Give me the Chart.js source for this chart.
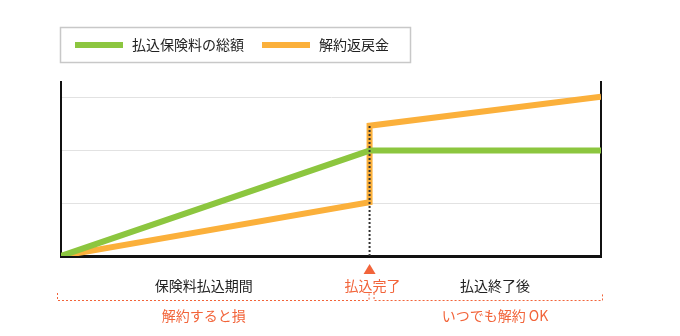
<!DOCTYPE html>
<html lang="ja">
<head>
<meta charset="utf-8">
<script src="https://cdn.jsdelivr.net/npm/chart.js@4/dist/chart.umd.min.js"></script>
<style>
  html, body { margin: 0; padding: 0; background: #fff; }
  #wrap { width: 680px; height: 336px; }
</style>
</head>
<body>
<div id="wrap"><canvas id="chart" width="680" height="336"></canvas></div>
<script>
// 払込保険料の総額と解約返戻金の推移（概念図）
const seriesNames = ["払込保険料の総額", "解約返戻金"];
const paidX = [0, 8, 14];
const paidValues = [0, 2, 2];
const refundX = [0, 8, 8, 14];
const refundValues = [0, 1.02, 2.47, 3.02];
const payEndX = 8;
const periodLabels = ["保険料払込期間", "払込完了", "払込終了後"];
const periodLabelX = [3.7, 8, 11.25];
const noteLabels = ["解約すると損", "いつでも解約 OK"];

const GREEN = "#8cc63f";
const ORANGE = "#fbb03b";
const RED = "#f2643a";
const FONT = '"Noto Sans CJK JP", "Noto Sans", sans-serif';

const toPoints = (xs, ys) => xs.map((x, i) => ({ x, y: ys[i] }));

// 凡例・下部ラベル・点線ブラケット
const annotations = {
  id: "annotations",
  afterDraw(chart) {
    const { ctx, chartArea, scales } = chart;
    const x = scales.x;
    ctx.save();

    // 凡例（枠付き）
    ctx.strokeStyle = "#c8c8c8";
    ctx.lineWidth = 1.5;
    ctx.strokeRect(60.5, 27.5, 350, 35);
    ctx.font = "14px " + FONT;
    ctx.textBaseline = "middle";
    ctx.textAlign = "left";
    const legendX = [75, 262];
    chart.data.datasets.slice(0, 2).forEach((ds, i) => {
      ctx.fillStyle = ds.borderColor;
      ctx.fillRect(legendX[i], 42, 48, 6);
      ctx.fillStyle = "#222";
      ctx.fillText(ds.label, legendX[i] + 57, 45);
    });

    // 期間ラベル
    const labelY = 286;
    ctx.textAlign = "center";
    ctx.fillStyle = "#222";
    ctx.fillText(periodLabels[0], x.getPixelForValue(periodLabelX[0]), labelY);
    ctx.fillText(periodLabels[2], x.getPixelForValue(periodLabelX[2]), labelY);
    const endPx = x.getPixelForValue(periodLabelX[1]);
    ctx.fillStyle = RED;
    ctx.fillText(periodLabels[1], endPx + 3, labelY);
    ctx.beginPath();
    ctx.moveTo(endPx, 264);
    ctx.lineTo(endPx + 6, 274);
    ctx.lineTo(endPx - 6, 274);
    ctx.closePath();
    ctx.fill();

    // 点線ブラケット
    const bracketY = 300.5;
    const tickTop = 293;
    ctx.strokeStyle = RED;
    ctx.lineWidth = 1;
    ctx.setLineDash([2, 2]);
    const bracket = (l, r) => {
      ctx.beginPath();
      ctx.moveTo(l, tickTop);
      ctx.lineTo(l, bracketY);
      ctx.lineTo(r, bracketY);
      ctx.lineTo(r, tickTop);
      ctx.stroke();
    };
    const payEndPx = x.getPixelForValue(payEndX);
    bracket(chartArea.left - 3.5, payEndPx - 0.5);
    bracket(payEndPx + 4.5, chartArea.right + 1.5);
    ctx.setLineDash([]);

    // 注記
    ctx.fillStyle = RED;
    ctx.fillText(noteLabels[0], x.getPixelForValue(periodLabelX[0]), 316);
    ctx.fillText(noteLabels[1], x.getPixelForValue(periodLabelX[2]), 316);
    ctx.restore();
  },
};

new Chart(document.getElementById("chart"), {
  type: "line",
  data: {
    datasets: [
      {
        label: seriesNames[0],
        data: toPoints(paidX, paidValues),
        borderColor: GREEN,
        borderWidth: 6,
        order: 1,
      },
      {
        label: seriesNames[1],
        data: toPoints(refundX, refundValues),
        borderColor: ORANGE,
        borderWidth: 6,
        order: 2,
      },
      {
        label: "払込完了",
        data: toPoints([payEndX, payEndX], [0, refundValues[2]]),
        borderColor: "#333",
        borderWidth: 2,
        borderDash: [2, 2],
        order: 0,
      },
    ],
  },
  options: {
    responsive: false,
    devicePixelRatio: 1,
    animation: false,
    layout: { padding: { left: 61, right: 79, top: 82, bottom: 80 } },
    elements: {
      point: { radius: 0 },
      line: { tension: 0, borderJoinStyle: "miter", fill: false },
    },
    plugins: { legend: { display: false }, tooltip: { enabled: false } },
    scales: {
      x: {
        type: "linear",
        min: 0,
        max: 14,
        ticks: { display: false },
        grid: { display: false, drawTicks: false },
        border: { color: "#111", width: 3 },
        afterFit: (s) => { s.height = 0; },
      },
      y: {
        min: 0,
        max: 3.3,
        ticks: { display: false, stepSize: 1 },
        grid: {
          drawTicks: false,
          color: (c) => (c.tick && Number.isInteger(c.tick.value) && c.tick.value > 0 ? "#e2e2e2" : "transparent"),
        },
        border: { color: "#111", width: 2 },
        afterFit: (s) => { s.width = 0; },
      },
      yRight: {
        position: "right",
        min: 0,
        max: 3.3,
        ticks: { display: false },
        grid: { display: false, drawTicks: false },
        border: { color: "#111", width: 2 },
        afterFit: (s) => { s.width = 0; },
      },
    },
  },
  plugins: [annotations],
});
</script>
</body>
</html>
